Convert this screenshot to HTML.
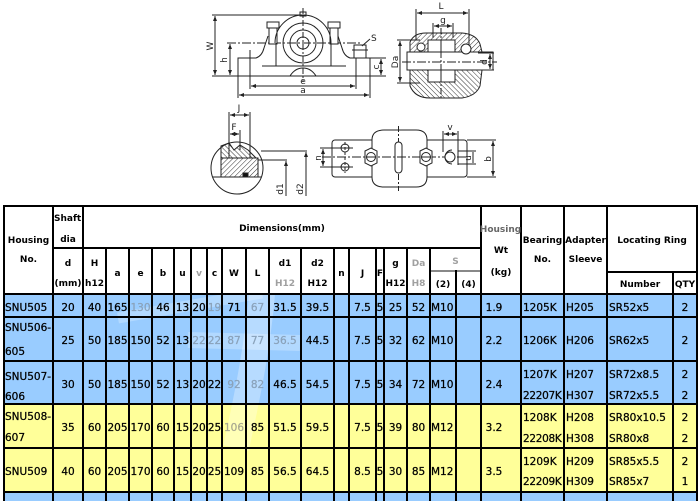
<!DOCTYPE html>
<html>
<head>
<meta charset="utf-8">
<style>
html,body{margin:0;padding:0;background:#fff;}
#c{position:relative;width:700px;height:501px;overflow:hidden;background:#fff;}
svg{position:absolute;left:0;top:0;}
.hd{font-family:"DejaVu Sans","Liberation Sans",sans-serif;font-size:9px;font-weight:bold;fill:#000;}
.dt{font-family:"DejaVu Sans","Liberation Sans",sans-serif;font-size:10.5px;fill:#000;stroke:#000;stroke-width:0.25px;}
.lb{font-family:"DejaVu Sans","Liberation Sans",sans-serif;font-size:9px;fill:#222;}
.g{fill:#8aa2ba;stroke:#8aa2ba;}
.gy{fill:#a8a890;stroke:#a8a890;}
.gh{fill:#a0a0a0;}
</style>
</head>
<body>
<div id="c">
<svg width="700" height="501" viewBox="0 0 700 501">
<defs>
<pattern id="hat" width="3.5" height="3.5" patternUnits="userSpaceOnUse" patternTransform="rotate(45)"><line x1="0" y1="0" x2="0" y2="3.5" stroke="#333" stroke-width="1"/></pattern>
<pattern id="hat2" width="3.5" height="3.5" patternUnits="userSpaceOnUse" patternTransform="rotate(-45)"><line x1="0" y1="0" x2="0" y2="3.5" stroke="#333" stroke-width="1"/></pattern>
<marker id="ar" markerWidth="6" markerHeight="6" refX="5" refY="3" orient="auto-start-reverse" markerUnits="userSpaceOnUse"><path d="M0,1 L5,3 L0,5 z" fill="#222"/></marker>
</defs>

<!-- ===== FRONT VIEW ===== -->
<g fill="none" stroke="#222" stroke-width="1">
<line x1="215" y1="16" x2="215" y2="75" marker-start="url(#ar)" marker-end="url(#ar)"/>
<line x1="212" y1="15" x2="303" y2="15"/>
<line x1="212" y1="76" x2="240" y2="76"/>
<line x1="230" y1="44" x2="230" y2="75" marker-start="url(#ar)" marker-end="url(#ar)"/>
<line x1="227" y1="43" x2="360" y2="43" stroke-dasharray="9 2 2 2"/>
<path d="M238,76 L238,58 L256,58 Q262,56 264,48 L268,36 M338,36 L342,48 Q344,56 350,58 L370,58 L370,76 L238,76"/>
<rect x="269" y="27" width="8" height="17" fill="#fff"/>
<rect x="267" y="22" width="12" height="6" fill="#fff"/>
<rect x="330" y="27" width="8" height="17" fill="#fff"/>
<rect x="328" y="22" width="12" height="6" fill="#fff"/>
<path d="M275,43 A28,28 0 0 1 331,43"/>
<rect x="300" y="12" width="6" height="4"/>
<circle cx="303" cy="43" r="20"/>
<circle cx="303" cy="43" r="13"/>
<circle cx="303" cy="43" r="6"/>
<line x1="276" y1="43" x2="276" y2="66"/>
<line x1="331" y1="43" x2="331" y2="66"/>
<line x1="262" y1="66" x2="346" y2="66"/>
<path d="M290,76 Q295,68 303,68 Q311,68 316,76"/>
<line x1="303" y1="8" x2="303" y2="82" stroke-dasharray="6 2 2 2"/>
<rect x="354" y="45" width="12" height="13" fill="#fff"/>
<line x1="352" y1="50" x2="368" y2="50"/>
<line x1="250" y1="50" x2="250" y2="89"/>
<line x1="356" y1="58" x2="356" y2="89"/>
<line x1="251" y1="86" x2="355" y2="86" marker-start="url(#ar)" marker-end="url(#ar)"/>
<line x1="238" y1="76" x2="238" y2="98"/>
<line x1="370" y1="76" x2="370" y2="98"/>
<line x1="239" y1="95" x2="369" y2="95" marker-start="url(#ar)" marker-end="url(#ar)"/>
<line x1="370" y1="58" x2="386" y2="58"/>
<line x1="370" y1="76" x2="386" y2="76"/>
<line x1="381" y1="59" x2="381" y2="75" marker-start="url(#ar)" marker-end="url(#ar)"/>
<line x1="362" y1="46" x2="370" y2="39"/>
</g>
<text class="lb" transform="translate(213,46) rotate(-90)" text-anchor="middle">W</text>
<text class="lb" transform="translate(227,60) rotate(-90)" text-anchor="middle">h</text>
<text class="lb" x="303" y="84" text-anchor="middle">e</text>
<text class="lb" x="303" y="93" text-anchor="middle">a</text>
<text class="lb" transform="translate(379,67) rotate(-90)" text-anchor="middle">c</text>
<text class="lb" x="371" y="41">S</text>

<!-- ===== SIDE SECTION ===== -->
<g fill="none" stroke="#222" stroke-width="1">
<line x1="417" y1="13" x2="468" y2="13" marker-start="url(#ar)" marker-end="url(#ar)"/>
<line x1="416" y1="9" x2="416" y2="40"/>
<line x1="469" y1="9" x2="469" y2="45"/>
<line x1="434" y1="26" x2="452" y2="26" marker-start="url(#ar)" marker-end="url(#ar)"/>
<line x1="433" y1="23" x2="433" y2="38"/>
<line x1="453" y1="23" x2="453" y2="38"/>
<path d="M410,52 L410,42 Q414,33 426,33 L462,33 Q476,34 480,44 L482,52 Z" fill="url(#hat)"/>
<path d="M410,70 L410,86 Q415,98 430,98 L462,98 Q476,96 480,86 L482,70 Z" fill="url(#hat2)"/>
<rect x="428" y="40" width="27" height="12" fill="#fff"/>
<rect x="428" y="70" width="27" height="12" fill="#fff"/>
<line x1="441" y1="40" x2="441" y2="52"/>
<line x1="441" y1="70" x2="441" y2="82"/>
<rect x="407" y="52" width="86" height="18" fill="#fff"/>
<line x1="402" y1="62" x2="497" y2="62" stroke-dasharray="9 2 2 2"/>
<line x1="441" y1="28" x2="441" y2="100" stroke-dasharray="6 2 2 2"/>
<circle cx="466" cy="49" r="5" fill="#fff"/>
<circle cx="421" cy="47" r="4" fill="#fff"/>
<line x1="400" y1="41" x2="400" y2="82" marker-start="url(#ar)" marker-end="url(#ar)"/>
<line x1="397" y1="40" x2="420" y2="40"/>
<line x1="397" y1="83" x2="420" y2="83"/>
<line x1="490" y1="54" x2="490" y2="69" marker-start="url(#ar)" marker-end="url(#ar)"/>
<line x1="478" y1="53" x2="494" y2="53"/>
<line x1="478" y1="70" x2="494" y2="70"/>
</g>
<text class="lb" x="441" y="9" text-anchor="middle">L</text>
<text class="lb" x="443" y="23" text-anchor="middle">g</text>
<text class="lb" transform="translate(398,62) rotate(-90)" text-anchor="middle">Da</text>
<text class="lb" transform="translate(487,62) rotate(-90)" text-anchor="middle">d</text>

<!-- ===== CIRCLE DETAIL ===== -->
<g fill="none" stroke="#222" stroke-width="1">
<circle cx="237" cy="168" r="26" fill="#fff"/>
<line x1="213" y1="177" x2="261" y2="177"/>
<rect x="221" y="158" width="37" height="19" fill="url(#hat)"/>
<path d="M221,158 L221,146 L229,143 L234,150 L240,145 L248,150 L256,158 Z" fill="url(#hat2)"/>
<rect x="243" y="173" width="5" height="4" fill="#111"/>
<line x1="229" y1="112" x2="229" y2="158"/>
<line x1="250" y1="112" x2="250" y2="158"/>
<line x1="230" y1="115" x2="249" y2="115" marker-start="url(#ar)" marker-end="url(#ar)"/>
<line x1="240" y1="130" x2="240" y2="150"/>
<line x1="230" y1="134" x2="239" y2="134" marker-start="url(#ar)" marker-end="url(#ar)"/>
<line x1="261" y1="151" x2="307" y2="151"/>
<line x1="306" y1="152" x2="306" y2="196" marker-start="url(#ar)"/>
<line x1="258" y1="160" x2="287" y2="160"/>
<line x1="286" y1="161" x2="286" y2="196" marker-start="url(#ar)"/>
</g>
<text class="lb" x="239" y="111" text-anchor="middle">J</text>
<text class="lb" x="234" y="130" text-anchor="middle">F</text>
<text class="lb" transform="translate(283,189) rotate(-90)" text-anchor="middle">d1</text>
<text class="lb" transform="translate(303,189) rotate(-90)" text-anchor="middle">d2</text>

<!-- ===== TOP VIEW ===== -->
<g fill="none" stroke="#222" stroke-width="1">
<rect x="332" y="140" width="135" height="37" rx="3" fill="#fff"/>
<path d="M372,140 Q372,130 384,130 L416,130 Q427,130 427,140 L427,177 Q427,187 416,187 L384,187 Q372,187 372,177 Z" fill="#fff"/>
<line x1="398.5" y1="126" x2="398.5" y2="191" stroke-dasharray="6 2 2 2"/>
<rect x="395" y="142" width="7" height="31" rx="3.5" fill="#fff"/>
<line x1="322" y1="157" x2="468" y2="157" stroke-dasharray="9 2 2 2"/>
<polygon points="365,151 371,148 377,151 377,163 371,166 365,163" fill="#fff"/>
<circle cx="371" cy="157" r="4.5"/>
<line x1="366" y1="157" x2="376" y2="157"/>
<polygon points="420,151 426,148 432,151 432,163 426,166 420,163" fill="#fff"/>
<circle cx="426" cy="157" r="4.5"/>
<line x1="421" y1="157" x2="431" y2="157"/>
<circle cx="345" cy="148" r="4"/>
<circle cx="345" cy="167" r="4"/>
<line x1="339" y1="148" x2="353" y2="148"/>
<line x1="339" y1="167" x2="353" y2="167"/>
<line x1="345" y1="142" x2="345" y2="173" stroke-dasharray="3 2"/>
<line x1="320" y1="148" x2="339" y2="148"/>
<line x1="320" y1="167" x2="339" y2="167"/>
<line x1="323" y1="149" x2="323" y2="166" marker-start="url(#ar)" marker-end="url(#ar)"/>
<path d="M452,150 A7,7 0 0 0 452,164" />
<circle cx="450" cy="157" r="5" fill="#fff"/>
<line x1="443" y1="131" x2="443" y2="152"/>
<line x1="458" y1="131" x2="458" y2="165"/>
<line x1="444" y1="134" x2="457" y2="134" marker-start="url(#ar)" marker-end="url(#ar)"/>
<line x1="458" y1="151" x2="476" y2="151"/>
<line x1="458" y1="164" x2="476" y2="164"/>
<line x1="473" y1="152" x2="473" y2="163"/>
<line x1="467" y1="140" x2="496" y2="140"/>
<line x1="467" y1="177" x2="496" y2="177"/>
<line x1="493" y1="141" x2="493" y2="176" marker-start="url(#ar)" marker-end="url(#ar)"/>
</g>
<text class="lb" transform="translate(321,158) rotate(-90)" text-anchor="middle">n</text>
<text class="lb" x="450" y="130" text-anchor="middle">v</text>
<text class="lb" transform="translate(471,158) rotate(-90)" text-anchor="middle">u</text>
<text class="lb" transform="translate(491,159) rotate(-90)" text-anchor="middle">b</text>

<!-- ===== TABLE BACKGROUNDS ===== -->
<rect x="4" y="294" width="693" height="110" fill="#99ccff"/>
<rect x="4" y="404" width="693" height="88" fill="#ffff99"/>
<rect x="4" y="492" width="693" height="9" fill="#99ccff"/>

<!-- watermark bands -->
<g fill="none" stroke="#fff" stroke-linecap="butt">
<path d="M262,294 C258,340 250,385 236,448" stroke-width="26" opacity="0.3"/>
<path d="M188,340 L300,343" stroke-width="16" opacity="0.25"/>
<path d="M118,318 L262,293" stroke-width="11" opacity="0.25"/>
</g>

<!-- ===== TABLE LINES ===== -->
<g fill="#000">
<rect x="3" y="205" width="695" height="2"/>
<rect x="52" y="247" width="430" height="2"/>
<rect x="429" y="270" width="53" height="2" fill="#888"/>
<rect x="606" y="271" width="92" height="2"/>
<rect x="3" y="293" width="695" height="2"/>
<rect x="3" y="316" width="695" height="2"/>
<rect x="3" y="360" width="695" height="2"/>
<rect x="3" y="403" width="695" height="2"/>
<rect x="3" y="447" width="695" height="2"/>
<rect x="3" y="491" width="695" height="2"/>
<rect x="3" y="205" width="2" height="296"/>
<rect x="52" y="205" width="2" height="296"/>
<rect x="82" y="205" width="2" height="296"/>
<rect x="480" y="205" width="2" height="296"/>
<rect x="520" y="205" width="2" height="296"/>
<rect x="563" y="205" width="2" height="296"/>
<rect x="606" y="205" width="2" height="296"/>
<rect x="696" y="205" width="2" height="296"/>
<rect x="105" y="247" width="2" height="254"/>
<rect x="128" y="247" width="2" height="254"/>
<rect x="151" y="247" width="2" height="254"/>
<rect x="173" y="247" width="2" height="254"/>
<rect x="190" y="247" width="2" height="254"/>
<rect x="206" y="247" width="2" height="254"/>
<rect x="221" y="247" width="2" height="254"/>
<rect x="245" y="247" width="2" height="254"/>
<rect x="268" y="247" width="2" height="254"/>
<rect x="300" y="247" width="2" height="254"/>
<rect x="333" y="247" width="2" height="254"/>
<rect x="348" y="247" width="2" height="254"/>
<rect x="375" y="247" width="2" height="254"/>
<rect x="383" y="247" width="2" height="254"/>
<rect x="406" y="247" width="2" height="254"/>
<rect x="429" y="247" width="2" height="254"/>
<rect x="455" y="270" width="2" height="231"/>
<rect x="672" y="271" width="2" height="230"/>
</g>

<!-- ===== HEADER TEXT ===== -->
<g class="hd" text-anchor="middle">
<text x="28.5" y="243">Housing</text>
<text x="28.5" y="262">No.</text>
<text x="54" y="221" text-anchor="start">Shaft</text>
<text x="68" y="242">dia</text>
<text x="282" y="231">Dimensions(mm)</text>
<text x="68" y="266">d</text>
<text x="68" y="286">(mm)</text>
<text x="94.5" y="266">H</text>
<text x="94.5" y="286">h12</text>
<text x="117.5" y="276">a</text>
<text x="140.5" y="276">e</text>
<text x="163" y="276">b</text>
<text x="182.5" y="276">u</text>
<text x="199" y="276" class="hd gh">v</text>
<text x="214.5" y="276">c</text>
<text x="234" y="276">W</text>
<text x="257.5" y="276">L</text>
<text x="285" y="266">d1</text>
<text x="285" y="286" class="hd gh">H12</text>
<text x="317.5" y="266">d2</text>
<text x="317.5" y="286">H12</text>
<text x="341.5" y="276">n</text>
<text x="362.5" y="276">J</text>
<text x="380" y="276">F</text>
<text x="395.5" y="266">g</text>
<text x="395.5" y="286">H12</text>
<text x="418.5" y="266" class="hd gh">Da</text>
<text x="418.5" y="286" class="hd gh">H8</text>
<text x="455.5" y="264" class="hd gh">S</text>
<text x="443" y="287">(2)</text>
<text x="468.5" y="287">(4)</text>
<text x="500.5" y="232" style="fill:#666">Housing</text>
<text x="501" y="253">Wt</text>
<text x="501" y="275">(kg)</text>
<text x="542.5" y="243">Bearing</text>
<text x="542.5" y="262">No.</text>
<text x="585.5" y="243">Adapter</text>
<text x="585.5" y="262">Sleeve</text>
<text x="652" y="243">Locating Ring</text>
<text x="640" y="287">Number</text>
<text x="685" y="287">QTY</text>
</g>

<!-- ===== DATA TEXT ===== -->
<g class="dt">
<text x="5" y="311">SNU505</text>
<text x="5" y="331">SNU506-</text>
<text x="5" y="355">605</text>
<text x="5" y="380">SNU507-</text>
<text x="5" y="400">606</text>
<text x="5" y="420">SNU508-</text>
<text x="5" y="441">607</text>
<text x="5" y="475">SNU509</text>
</g>
<g class="dt" text-anchor="middle">
<text x="68" y="311">20</text><text x="94.5" y="311">40</text><text x="117.5" y="311">165</text><text x="140.5" y="311" class="dt g">130</text><text x="163" y="311">46</text><text x="182.5" y="311">13</text><text x="199" y="311">20</text><text x="214.5" y="311" class="dt g">19</text><text x="234" y="311">71</text><text x="257.5" y="311" class="dt g">67</text><text x="285" y="311">31.5</text><text x="317.5" y="311">39.5</text><text x="362.5" y="311">7.5</text><text x="380" y="311">5</text><text x="395.5" y="311">25</text><text x="418.5" y="311">52</text>
<text x="68" y="344">25</text><text x="94.5" y="344">50</text><text x="117.5" y="344">185</text><text x="140.5" y="344">150</text><text x="163" y="344">52</text><text x="182.5" y="344">13</text><text x="199" y="344" class="dt g">22</text><text x="214.5" y="344" class="dt g">22</text><text x="234" y="344" class="dt g">87</text><text x="257.5" y="344" class="dt g">77</text><text x="285" y="344" class="dt g">36.5</text><text x="317.5" y="344">44.5</text><text x="362.5" y="344">7.5</text><text x="380" y="344">5</text><text x="395.5" y="344">32</text><text x="418.5" y="344">62</text>
<text x="68" y="388">30</text><text x="94.5" y="388">50</text><text x="117.5" y="388">185</text><text x="140.5" y="388">150</text><text x="163" y="388">52</text><text x="182.5" y="388">13</text><text x="199" y="388">20</text><text x="214.5" y="388">22</text><text x="234" y="388" class="dt g">92</text><text x="257.5" y="388" class="dt g">82</text><text x="285" y="388">46.5</text><text x="317.5" y="388">54.5</text><text x="362.5" y="388">7.5</text><text x="380" y="388">5</text><text x="395.5" y="388">34</text><text x="418.5" y="388">72</text>
<text x="68" y="431">35</text><text x="94.5" y="431">60</text><text x="117.5" y="431">205</text><text x="140.5" y="431">170</text><text x="163" y="431">60</text><text x="182.5" y="431">15</text><text x="199" y="431">20</text><text x="214.5" y="431">25</text><text x="234" y="431" class="dt gy">106</text><text x="257.5" y="431">85</text><text x="285" y="431">51.5</text><text x="317.5" y="431">59.5</text><text x="362.5" y="431">7.5</text><text x="380" y="431">5</text><text x="395.5" y="431">39</text><text x="418.5" y="431">80</text>
<text x="68" y="475">40</text><text x="94.5" y="475">60</text><text x="117.5" y="475">205</text><text x="140.5" y="475">170</text><text x="163" y="475">60</text><text x="182.5" y="475">15</text><text x="199" y="475">20</text><text x="214.5" y="475">25</text><text x="234" y="475">109</text><text x="257.5" y="475">85</text><text x="285" y="475">56.5</text><text x="317.5" y="475">64.5</text><text x="362.5" y="475">8.5</text><text x="380" y="475">5</text><text x="395.5" y="475">30</text><text x="418.5" y="475">85</text>
<text x="494" y="311">1.9</text><text x="494" y="344">2.2</text><text x="494" y="388">2.4</text><text x="494" y="431">3.2</text><text x="494" y="475">3.5</text>
<text x="685" y="311">2</text><text x="685" y="344">2</text>
<text x="685" y="378">2</text><text x="685" y="399">2</text>
<text x="685" y="421">2</text><text x="685" y="442">2</text>
<text x="685" y="465">2</text><text x="685" y="485">1</text>
</g>
<g class="dt">
<text x="431" y="311">M10</text><text x="431" y="344">M10</text><text x="431" y="388">M10</text><text x="431" y="431">M12</text><text x="431" y="475">M12</text>
<text x="523" y="311">1205K</text>
<text x="523" y="344">1206K</text>
<text x="523" y="378">1207K</text><text x="523" y="399" letter-spacing="-0.3">22207K</text>
<text x="523" y="421">1208K</text><text x="523" y="442" letter-spacing="-0.3">22208K</text>
<text x="523" y="465">1209K</text><text x="523" y="485" letter-spacing="-0.3">22209K</text>
<text x="566" y="311">H205</text>
<text x="566" y="344">H206</text>
<text x="566" y="378">H207</text><text x="566" y="399">H307</text>
<text x="566" y="421">H208</text><text x="566" y="442">H308</text>
<text x="566" y="465">H209</text><text x="566" y="485">H309</text>
<text x="609" y="311">SR52x5</text>
<text x="609" y="344">SR62x5</text>
<text x="609" y="378">SR72x8.5</text><text x="609" y="399">SR72x5.5</text>
<text x="609" y="421">SR80x10.5</text><text x="609" y="442">SR80x8</text>
<text x="609" y="465">SR85x5.5</text><text x="609" y="485">SR85x7</text>
</g>
</svg>
</div>
</body>
</html>
